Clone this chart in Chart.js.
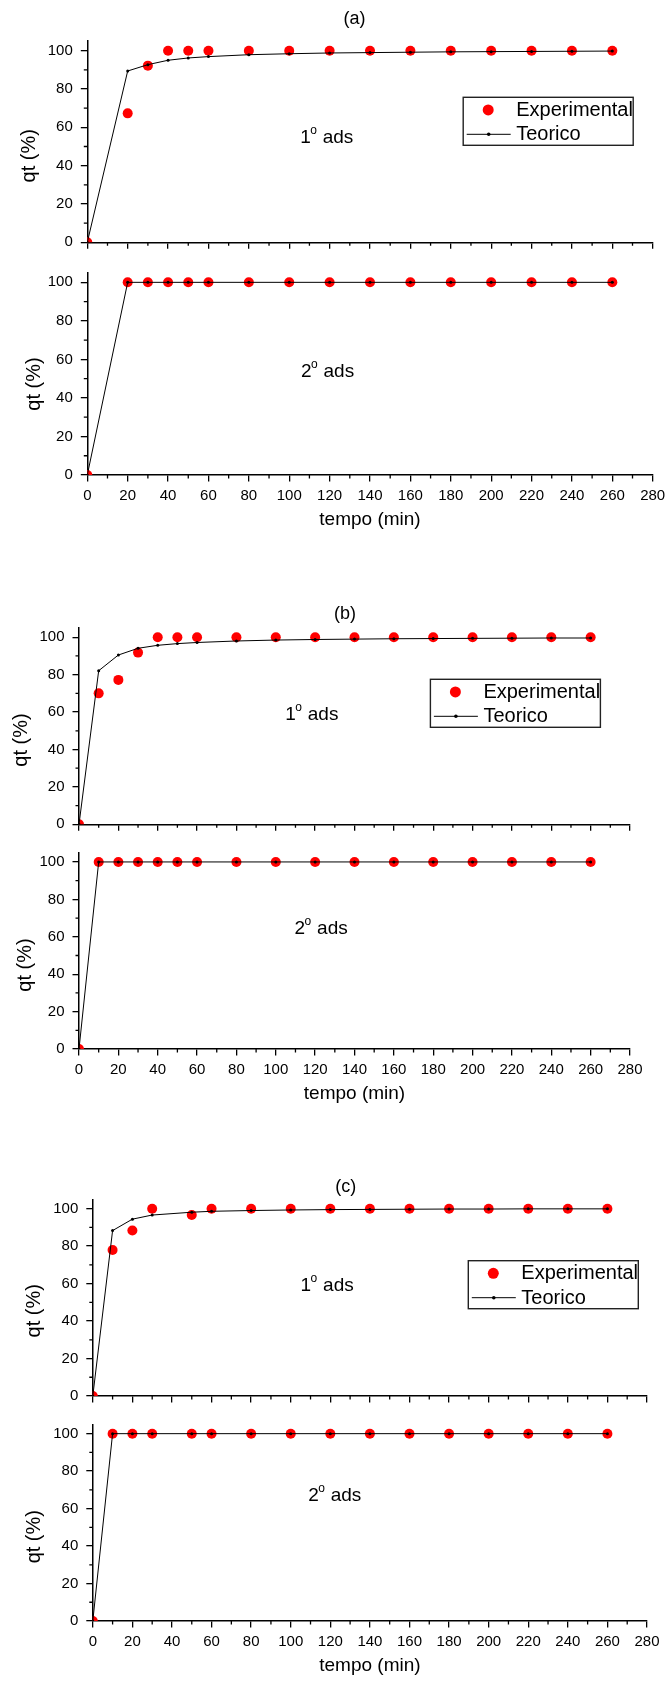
<!DOCTYPE html>
<html>
<head>
<meta charset="utf-8">
<script src="https://cdn.jsdelivr.net/npm/chart.js@4.4.0/dist/chart.umd.min.js"></script>
<style>
  body { margin: 0; background: #fff; }
  #wrap { position: relative; width: 668px; height: 1686px; overflow: hidden; background: #fff; }
  #wrap canvas { position: absolute; left: 0; top: 0; }
</style>
</head>
<body>
<div id="wrap">
  <canvas id="a1" width="668" height="1686"></canvas>
  <canvas id="a2" width="668" height="1686"></canvas>
  <canvas id="b1" width="668" height="1686"></canvas>
  <canvas id="b2" width="668" height="1686"></canvas>
  <canvas id="c1" width="668" height="1686"></canvas>
  <canvas id="c2" width="668" height="1686"></canvas>
</div>
<script>
// tempo (min) for each set
var tempoA = [0, 20, 30, 40, 50, 60, 80, 100, 120, 140, 160, 180, 200, 220, 240, 260];
var tempoB = [0, 10, 20, 30, 40, 50, 60, 80, 100, 120, 140, 160, 180, 200, 220, 240, 260];
var tempoC = [0, 10, 20, 30, 50, 60, 80, 100, 120, 140, 160, 180, 200, 220, 240, 260];

// (a)
var expA1 = [0, 67.3, 92.2, 100, 100, 100, 100, 100, 100, 100, 100, 100, 100, 100, 100, 100];
var teoA1 = [0, 89.4, 92.7, 95.0, 96.2, 96.9, 97.9, 98.4, 98.8, 99.0, 99.2, 99.4, 99.5, 99.6, 99.7, 99.8];
var expA2 = [0, 100, 100, 100, 100, 100, 100, 100, 100, 100, 100, 100, 100, 100, 100, 100];
var teoA2 = [0, 100, 100, 100, 100, 100, 100, 100, 100, 100, 100, 100, 100, 100, 100, 100];
// (b)
var expB1 = [0, 70.0, 77.2, 91.8, 100, 100, 100, 100, 100, 100, 100, 100, 100, 100, 100, 100, 100];
var teoB1 = [0, 82.1, 90.5, 94.1, 95.7, 96.6, 97.2, 98.0, 98.5, 98.8, 99.0, 99.2, 99.3, 99.4, 99.5, 99.6, 99.6];
var expB2 = [0, 100, 100, 100, 100, 100, 100, 100, 100, 100, 100, 100, 100, 100, 100, 100, 100];
var teoB2 = [0, 100, 100, 100, 100, 100, 100, 100, 100, 100, 100, 100, 100, 100, 100, 100, 100];
// (c)
var expC1 = [0, 77.9, 88.3, 100, 96.6, 100, 100, 100, 100, 100, 100, 100, 100, 100, 100, 100];
var teoC1 = [0, 88.3, 94.4, 96.6, 98.1, 98.6, 99.0, 99.3, 99.5, 99.6, 99.7, 99.8, 99.8, 99.9, 99.9, 99.9];
var expC2 = [0, 100, 100, 100, 100, 100, 100, 100, 100, 100, 100, 100, 100, 100, 100, 100];
var teoC2 = [0, 100, 100, 100, 100, 100, 100, 100, 100, 100, 100, 100, 100, 100, 100, 100];

var xTicks = [0, 20, 40, 60, 80, 100, 120, 140, 160, 180, 200, 220, 240, 260, 280];
var yTicks = [0, 20, 40, 60, 80, 100];

var FONT = "'Liberation Sans', Arial, sans-serif";
Chart.defaults.font.family = FONT;
Chart.defaults.color = '#000';

// where each panel's plot area sits on the page (left, right, top, bottom)
var panels = [
  {id: 'a1', t: tempoA, exp: expA1, teo: teoA1, area: [87.3, 652.7, 41.1, 242.3], showX: false,
   title: ['(a)', 354.6, 19], ylab: [29, 155.8], note: ['1', 300.2, 142.7], legend: [463.2, 97.3]},
  {id: 'a2', t: tempoA, exp: expA2, teo: teoA2, area: [87.3, 652.7, 272.7, 475], showX: true,
   ylab: [34.1, 384], note: ['2', 301, 376.7]},
  {id: 'b1', t: tempoB, exp: expB1, teo: teoB1, area: [79, 630, 627.9, 824.3], showX: false,
   title: ['(b)', 344.9, 614], ylab: [21.3, 740], note: ['1', 285.3, 720], legend: [430.4, 679.3]},
  {id: 'b2', t: tempoB, exp: expB2, teo: teoB2, area: [79, 630, 852.6, 1049], showX: true,
   ylab: [25.1, 965], note: ['2', 294.6, 934]},
  {id: 'c1', t: tempoC, exp: expC1, teo: teoC1, area: [92.8, 647, 1199.3, 1396], showX: false,
   title: ['(c)', 345.7, 1187], ylab: [34.1, 1310.8], note: ['1', 300.6, 1291], legend: [468.3, 1260.7]},
  {id: 'c2', t: tempoC, exp: expC2, teo: teoC2, area: [92.8, 647, 1424.3, 1621], showX: true,
   ylab: [34.1, 1536.7], note: ['2', 308.2, 1500.7]}
];

// minor ticks, titles, "1° ads" notes and the boxed legend
var extras = {
  id: 'extras',
  afterDraw: function(chart, args, o) {
    var ctx = chart.ctx, xs = chart.scales.x, ys = chart.scales.y, a = chart.chartArea;
    ctx.save();
    ctx.strokeStyle = '#000';
    ctx.lineWidth = 1.3;
    ctx.beginPath();
    for (var v = 10; v < 280; v += 20) {
      var px = xs.getPixelForValue(v);
      ctx.moveTo(px, a.bottom); ctx.lineTo(px, a.bottom + 3.5);
    }
    for (var w = 10; w < 100; w += 20) {
      var py = ys.getPixelForValue(w);
      ctx.moveTo(a.left, py); ctx.lineTo(a.left - 3.5, py);
    }
    ctx.stroke();

    ctx.fillStyle = '#000';
    if (o.title) {
      ctx.font = '18px ' + FONT;
      ctx.textAlign = 'center';
      ctx.textBaseline = 'middle';
      ctx.fillText(o.title[0], o.title[1], o.title[2]);
    }
    // y axis title
    ctx.save();
    ctx.translate(o.ylab[0], o.ylab[1]);
    ctx.rotate(-Math.PI / 2);
    ctx.font = '20px ' + FONT;
    ctx.textAlign = 'center';
    ctx.textBaseline = 'middle';
    ctx.fillText('qt (%)', 0, 0);
    ctx.restore();

    // note like 1° ads
    ctx.textAlign = 'left';
    ctx.textBaseline = 'alphabetic';
    ctx.font = '19px ' + FONT;
    ctx.fillText(o.note[0], o.note[1], o.note[2]);
    ctx.font = '12px ' + FONT;
    ctx.fillText('o', o.note[1] + 10, o.note[2] - 9);
    ctx.font = '19px ' + FONT;
    ctx.fillText('ads', o.note[1] + 22.5, o.note[2]);

    if (o.legend) {
      var lx = o.legend[0], ly = o.legend[1];
      var ds = chart.data.datasets;
      ctx.strokeStyle = '#222';
      ctx.lineWidth = 1.4;
      ctx.strokeRect(lx, ly, 170, 48);
      ctx.fillStyle = '#ff0000';
      ctx.beginPath();
      ctx.arc(lx + 25, ly + 12.6, 5.5, 0, Math.PI * 2);
      ctx.fill();
      ctx.strokeStyle = '#000';
      ctx.lineWidth = 1;
      ctx.beginPath();
      ctx.moveTo(lx + 3.5, ly + 37); ctx.lineTo(lx + 47.5, ly + 37);
      ctx.stroke();
      ctx.fillStyle = '#000';
      ctx.beginPath();
      ctx.arc(lx + 25.5, ly + 37, 1.8, 0, Math.PI * 2);
      ctx.fill();
      ctx.font = '20px ' + FONT;
      ctx.textBaseline = 'middle';
      ctx.fillText(ds[0].label, lx + 53, ly + 13);
      ctx.fillText(ds[1].label, lx + 53, ly + 37.5);
    }
    ctx.restore();
  }
};

panels.forEach(function(p) {
  var left = p.area[0], right = p.area[1], top = p.area[2], bottom = p.area[3];
  var xh = p.showX ? 56 : 10;
  new Chart(document.getElementById(p.id), {
    type: 'scatter',
    data: {
      datasets: [{
        label: 'Experimental',
        data: p.t.map(function(t, i) { return {x: t, y: p.exp[i]}; }),
        backgroundColor: '#ff0000',
        borderColor: '#ff0000',
        pointRadius: 5,
        pointBorderWidth: 0,
        clip: 0,
        order: 1
      }, {
        label: 'Teorico',
        data: p.t.map(function(t, i) { return {x: t, y: p.teo[i]}; }),
        showLine: true,
        borderColor: '#000',
        borderWidth: 1,
        backgroundColor: '#000',
        pointRadius: 1.5,
        pointBorderWidth: 0,
        order: 0
      }]
    },
    options: {
      responsive: false,
      animation: false,
      events: [],
      layout: { padding: { left: 0, right: 668 - right, top: top, bottom: 1686 - bottom - xh } },
      plugins: {
        legend: { display: false },
        tooltip: { enabled: false },
        extras: p
      },
      scales: {
        x: {
          type: 'linear',
          min: 0, max: 280,
          afterBuildTicks: function(s) { s.ticks = xTicks.map(function(v) { return {value: v}; }); },
          afterFit: function(s) { s.height = xh; s.paddingLeft = 0; s.paddingRight = 0; },
          ticks: { display: p.showX, autoSkip: false, maxRotation: 0, padding: 5, color: '#000', font: { size: 15 } },
          grid: { drawOnChartArea: false, drawTicks: true, tickLength: 6.5, color: '#000', lineWidth: 1.3 },
          border: { display: true, color: '#000', width: 1.5 },
          title: { display: p.showX, text: 'tempo (min)', color: '#000', font: { size: 19 }, padding: 0 }
        },
        y: {
          type: 'linear',
          min: 0, max: 105,
          afterBuildTicks: function(s) { s.ticks = yTicks.map(function(v) { return {value: v}; }); },
          afterFit: function(s) { s.width = left; s.paddingTop = 0; s.paddingBottom = 0; },
          ticks: { padding: 8, color: '#000', font: { size: 15 } },
          grid: { drawOnChartArea: false, drawTicks: true, tickLength: 6.5, color: '#000', lineWidth: 1.3 },
          border: { display: true, color: '#000', width: 1.5 }
        }
      }
    },
    plugins: [extras]
  });
});
</script>
</body>
</html>
